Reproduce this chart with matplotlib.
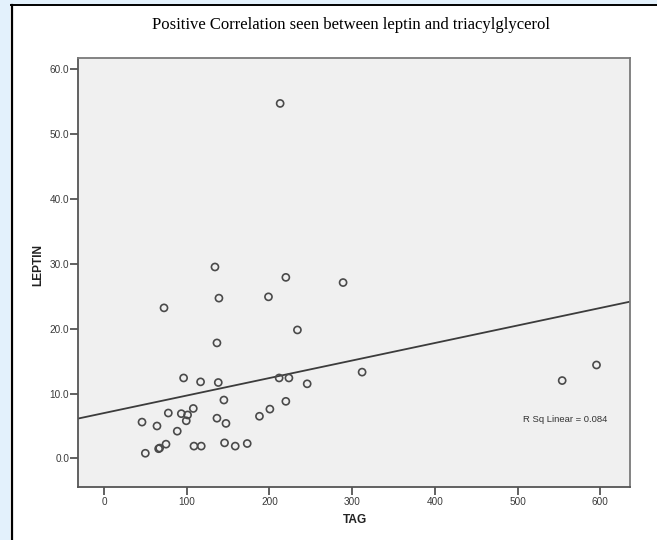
import numpy as np
import matplotlib
matplotlib.use("Agg")
import matplotlib.pyplot as plt
from matplotlib.patches import Rectangle
from matplotlib.lines import Line2D

# ---- data ----
tag = [136.6, 96.3, 116.8, 138.2, 211.8, 223.6, 245.7, 145.0, 219.9, 200.6,
       188.0, 108.0, 77.8, 93.5, 101.1, 99.5, 46.0, 64.1, 136.6, 147.5,
       88.6, 75.0, 66.1, 67.3, 50.0, 108.8, 117.6, 145.8, 158.7, 173.2,
       213.0, 134.2, 219.9, 289.1, 72.6, 139.0, 198.9, 233.9, 595.5, 554.0,
       312.1]
leptin = [17.8, 12.4, 11.8, 11.7, 12.4, 12.4, 11.5, 9.0, 8.8, 7.6,
          6.5, 7.7, 7.0, 6.9, 6.7, 5.8, 5.6, 5.0, 6.2, 5.4,
          4.2, 2.2, 1.5, 1.6, 0.8, 1.9, 1.9, 2.4, 1.9, 2.3,
          54.7, 29.5, 27.9, 27.1, 23.2, 24.7, 24.9, 19.8, 14.4, 12.0,
          13.3]
x_ticks = [0, 100, 200, 300, 400, 500, 600]
y_ticks = [0, 10, 20, 30, 40, 50, 60]
title = "Positive Correlation seen between leptin and triacylglycerol"
x_label = "TAG"
y_label = "LEPTIN"
r_sq_linear = 0.084

W, H = 657, 540
fig = plt.figure(figsize=(W / 100, H / 100), dpi=100, facecolor="white")

# window-like frame around the chart
fig.patches.append(Rectangle((0, 0), 10 / W, 1, transform=fig.transFigure,
                             facecolor="#E3F1FC", edgecolor="none", zorder=0))
fig.patches.append(Rectangle((0, 1 - 3.5 / H), 1, 3.5 / H, transform=fig.transFigure,
                             facecolor="#E3F1FC", edgecolor="none", zorder=0))
fig.lines.append(Line2D([11.5 / W, 11.5 / W], [0, 1 - 4.5 / H], transform=fig.transFigure,
                        color="black", lw=1.6))
fig.lines.append(Line2D([11 / W, 1], [1 - 4.5 / H, 1 - 4.5 / H], transform=fig.transFigure,
                        color="black", lw=1.4))

left, right, top, bottom = 78, 630, 58, 487
ax = fig.add_axes([left / W, 1 - bottom / H, (right - left) / W, (bottom - top) / H])
ax.set_facecolor("#F0F0F0")

ax.scatter(tag, leptin, s=26, facecolors="none", edgecolors="#4a4a4a", linewidths=1.2, zorder=3)

xlim = (-31.4, 636)
ylim = (-4.4, 61.7)
coef = np.polyfit(tag, leptin, 1)
xs = np.array(xlim)
ax.plot(xs, np.polyval(coef, xs), color="#3c3c3c", lw=1.3, zorder=2)

ax.set_xlim(*xlim)
ax.set_ylim(*ylim)
ax.set_xticks(x_ticks)
ax.set_xticklabels([str(v) for v in x_ticks])
ax.set_yticks(y_ticks)
ax.set_yticklabels([f"{v:.1f}" for v in y_ticks])

for s in ax.spines.values():
    s.set_color("#7a7a7a")
    s.set_linewidth(1.3)
ax.spines["left"].set_color("#555555")
ax.spines["bottom"].set_color("#555555")

ax.tick_params(axis="both", direction="out", length=5.5, width=1.3, color="#555555",
               labelsize=7.2, labelcolor="#3a3a3a")
ax.tick_params(axis="y", pad=0.8)
ax.tick_params(axis="x", pad=1.5)
for lbl in ax.get_xticklabels() + ax.get_yticklabels():
    lbl.set_family("Liberation Sans")

ax.set_xlabel(x_label, fontsize=8.6, fontweight="bold", family="Liberation Sans", color="#222222")
ax.set_ylabel(y_label, fontsize=8.6, fontweight="bold", family="Liberation Sans", color="#222222")
ax.xaxis.set_label_coords((355 - left) / (right - left), -(514 - bottom) / (bottom - top))
ax.yaxis.set_label_coords(-(78 - 44) / (right - left), (bottom - 265) / (bottom - top))

ax.text((607 - left) / (right - left), (bottom - 420) / (bottom - top),
        f"R Sq Linear = {r_sq_linear:.3f}", transform=ax.transAxes, ha="right", va="center",
        fontsize=6.8, family="Liberation Sans", color="#333333")

fig.text(351 / W, 1 - 25 / H, title, ha="center", va="center", fontsize=12,
         family="Liberation Serif", color="black")

fig.savefig("out.png", dpi=100, facecolor="white")
